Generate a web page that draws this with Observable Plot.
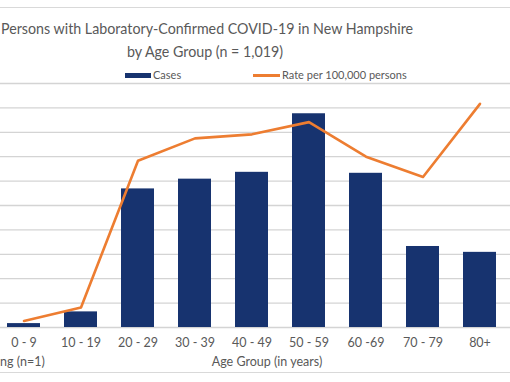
<!DOCTYPE html>
<html>
<head>
<meta charset="utf-8">
<script src="https://cdn.jsdelivr.net/npm/d3@7"></script>
<script src="https://cdn.jsdelivr.net/npm/@observablehq/plot@0.6"></script>
<style>
  html, body { margin: 0; padding: 0; background: #fff; }
  #wrap { position: relative; width: 510px; height: 382px; overflow: hidden; font-family: Lato, "Open Sans", sans-serif; color: #595959; }
  #wrap svg { position: absolute; left: 0; top: 0; }
  .t { position: absolute; white-space: nowrap; line-height: 1; }
  .rule { position: absolute; left: 0; width: 510px; height: 1px; background: #d9d9d9; }
</style>
</head>
<body>
<div id="wrap">
  <div class="rule" style="top:7px"></div>
  <div class="rule" style="top:372px"></div>
  <div class="t" id="title1" style="left:1px; top:20px; font-size:16px; transform:scaleX(0.89); transform-origin:0 0;">Persons with Laboratory-Confirmed COVID-19 in New Hampshire</div>
  <div class="t" id="title2" style="left:205px; top:43px; font-size:16px; transform:translateX(-50%) scaleX(0.89);">by Age Group (n = 1,019)</div>
  <div class="t" style="left:125px; top:73px; width:26px; height:5px; background:#17336f;"></div>
  <div class="t" style="left:153px; top:69px; font-size:11px;">Cases</div>
  <div class="t" style="left:253px; top:74px; width:27px; height:3px; background:#ed7d31;"></div>
  <div class="t" style="left:282px; top:69px; font-size:11px;">Rate per 100,000 persons</div>
  <div class="t" style="left:267px; top:356px; font-size:12.5px; transform:translateX(-50%);">Age Group (in years)</div>
  <div class="t" style="left:0px; top:356px; font-size:12.5px;">ng (n=1)</div>
</div>
<script>
const ageGroups = ["0 - 9", "10 - 19", "20 - 29", "30 - 39", "40 - 49", "50 - 59", "60 -69", "70 - 79", "80+"];
const cases = [4, 16, 142, 152, 159, 219, 158, 83, 77];
const ratePer100k = [3.2, 9.8, 82, 93, 95, 101, 84, 74, 110];
const caseTicks = [0, 25, 50, 75, 100, 125, 150, 175, 200, 225, 250];
const caseMax = 250;
const rateMax = 120;

const data = ageGroups.map((g, i) => ({group: g, cases: cases[i], rate: ratePer100k[i]}));
const k = caseMax / rateMax;

const chart = Plot.plot({
  width: 510,
  height: 382,
  marginTop: 83,
  marginBottom: 55,
  marginLeft: 0,
  marginRight: 0,
  style: {background: "transparent", fontFamily: "Lato, 'Open Sans', sans-serif", color: "#595959"},
  x: {domain: ageGroups, range: [-7.2, 509.7], paddingInner: 0.42, paddingOuter: 0.21, label: null},
  y: {domain: [0, caseMax], axis: null},
  marks: [
    Plot.gridY(caseTicks, {stroke: "#d4d4d4", strokeOpacity: 1, strokeWidth: 1.3}),
    Plot.barY(data, {x: "group", y: "cases", fill: "#17336f"}),
    Plot.line(data, {x: "group", y: d => d.rate * k, stroke: "#ed7d31", strokeWidth: 2.6, curve: "linear"}),
    Plot.axisX({tickSize: 0, tickPadding: 11, fontSize: 12.5, fill: "#595959", label: null})
  ]
});
document.getElementById("wrap").prepend(chart);
</script>
</body>
</html>
